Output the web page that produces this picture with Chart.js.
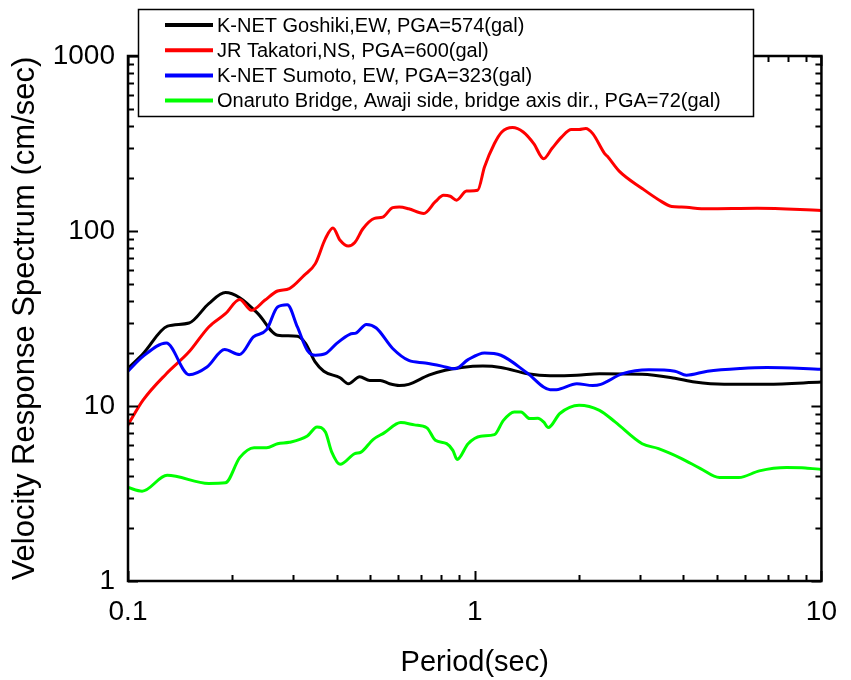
<!DOCTYPE html>
<html>
<head>
<meta charset="utf-8">
<script src="https://cdn.jsdelivr.net/npm/chart.js@4/dist/chart.umd.min.js"></script>
<style>
  html, body { margin: 0; padding: 0; background: #fff; }
  #wrap { width: 851px; height: 680px; }
</style>
</head>
<body>
<div id="wrap"><canvas id="spectrum" width="851" height="680"></canvas></div>
<script>
// series: period (sec) and velocity response (cm/sec)
const seriesLabels = [
    'K-NET Goshiki,EW, PGA=574(gal)',
    'JR Takatori,NS, PGA=600(gal)',
    'K-NET Sumoto, EW, PGA=323(gal)',
    'Onaruto Bridge, Awaji side, bridge axis dir., PGA=72(gal)'
];
const seriesColors = ['#000000', '#ff0000', '#0000ff', '#00ff00'];

const goshikiT = [0.1, 0.1105, 0.130, 0.150, 0.171, 0.191, 0.210, 0.237, 0.270, 0.308, 0.325, 0.347, 0.367, 0.409, 0.432, 0.466, 0.498, 0.534, 0.568, 0.606, 0.645, 0.737, 0.822, 0.917, 1.056, 1.19, 1.42, 1.65, 1.97, 2.29, 3.04, 3.78, 4.31, 5.24, 6.96, 10];
const goshikiV = [16.4, 19.9, 28.6, 29.8, 38.5, 44.5, 41.6, 33.7, 25.4, 25.0, 22.8, 17.8, 15.8, 14.5, 13.4, 14.7, 14.0, 14.0, 13.4, 13.1, 13.3, 15.0, 16.0, 16.6, 16.9, 16.6, 15.3, 14.9, 15.0, 15.3, 15.2, 14.4, 13.7, 13.3, 13.3, 13.7];

const takatoriT = [0.1, 0.1105, 0.129, 0.150, 0.171, 0.191, 0.210, 0.227, 0.248, 0.270, 0.292, 0.322, 0.347, 0.371, 0.390, 0.409, 0.432, 0.451, 0.476, 0.514, 0.543, 0.580, 0.606, 0.645, 0.713, 0.77, 0.813, 0.85, 0.886, 0.947, 1.02, 1.067, 1.14, 1.197, 1.285, 1.38, 1.48, 1.58, 1.67, 1.78, 1.90, 2.0, 2.09, 2.19, 2.37, 2.41, 2.61, 3.04, 3.39, 3.70, 3.95, 4.69, 6.52, 10];
const takatoriV = [7.8, 10.8, 15.3, 20.4, 28.3, 33.7, 40.6, 35.2, 40.2, 45.4, 46.9, 55.8, 65.1, 90.5, 104, 88.5, 82, 86, 103, 118, 120, 136, 137, 134, 126, 147, 160, 158, 150, 169, 171, 232, 316, 368, 390, 368, 316, 259, 296, 344, 380, 380, 385, 360, 277, 268, 220, 175, 151, 138, 137, 134, 135, 131];

const sumotoT = [0.1, 0.1105, 0.129, 0.150, 0.169, 0.190, 0.210, 0.230, 0.251, 0.270, 0.288, 0.308, 0.329, 0.347, 0.371, 0.400, 0.436, 0.456, 0.487, 0.520, 0.580, 0.645, 0.72, 0.804, 0.877, 0.957, 1.067, 1.19, 1.42, 1.65, 1.72, 1.97, 2.19, 2.31, 2.67, 3.18, 3.78, 4.08, 4.69, 5.85, 6.96, 10];
const sumotoV = [15.8, 19.2, 22.9, 15.1, 16.7, 21.0, 19.7, 24.8, 27.3, 36.8, 37.9, 28.3, 20.8, 19.5, 19.9, 22.8, 25.7, 26.2, 29.2, 27.9, 21.3, 18.2, 17.6, 16.9, 16.3, 18.4, 20.1, 19.5, 15.4, 12.4, 12.4, 13.4, 13.1, 13.3, 15.3, 16.1, 15.8, 15.0, 15.8, 16.4, 16.6, 16.2];

const onarutoT = [0.1, 0.1098, 0.1297, 0.171, 0.191, 0.210, 0.231, 0.251, 0.270, 0.292, 0.329, 0.351, 0.371, 0.387, 0.409, 0.451, 0.47, 0.509, 0.548, 0.612, 0.67, 0.728, 0.77, 0.83, 0.865, 0.89, 0.957, 1.04, 1.14, 1.21, 1.30, 1.36, 1.44, 1.52, 1.58, 1.63, 1.76, 2.0, 2.29, 2.54, 3.04, 3.39, 3.95, 4.48, 5.08, 5.78, 6.62, 7.93, 8.99, 10];
const onarutoV = [3.42, 3.26, 4.02, 3.61, 3.64, 5.07, 5.78, 5.78, 6.09, 6.2, 6.74, 7.59, 7.1, 5.45, 4.64, 5.35, 5.45, 6.43, 7.02, 8.04, 7.8, 7.5, 6.37, 6.1, 5.58, 4.95, 6.09, 6.72, 6.86, 8.28, 9.25, 9.25, 8.47, 8.5, 8.11, 7.53, 9.06, 10.1, 9.45, 8.11, 6.09, 5.71, 5.01, 4.39, 3.90, 3.90, 4.26, 4.45, 4.43, 4.34];

// tick labels
const xTickValues = [0.1, 1, 10];
const yTickValues = [1, 10, 100, 1000];

const FONT = '"Liberation Sans", Arial, Helvetica, sans-serif';
Chart.defaults.font.family = FONT;
Chart.defaults.color = '#000';

function toPoints(ts, vs) {
    return ts.map((t, i) => ({ x: t, y: vs[i] }));
}

const allT = [goshikiT, takatoriT, sumotoT, onarutoT];
const allV = [goshikiV, takatoriV, sumotoV, onarutoV];

const datasets = seriesLabels.map((label, i) => ({
    label: label,
    data: toPoints(allT[i], allV[i]),
    borderColor: seriesColors[i],
    backgroundColor: seriesColors[i],
    borderWidth: 3,
    pointRadius: 0,
    cubicInterpolationMode: 'monotone',
    fill: false,
    order: seriesLabels.length - i
}));

// list of decade + minor values between lo and hi
function logMarks(lo, hi) {
    const marks = [];
    for (let d = lo; d < hi * 0.999; d *= 10) {
        marks.push({ v: d, major: true });
        for (let k = 2; k <= 9; k++) marks.push({ v: d * k, major: false });
    }
    marks.push({ v: hi, major: true });
    return marks;
}

// frame with inward ticks on all four sides (Origin style)
const frameTicks = {
    id: 'frameTicks',
    afterDraw(chart) {
        const { ctx, chartArea: a, scales } = chart;
        const x = scales.x, y = scales.y;
        ctx.save();
        ctx.strokeStyle = '#000';
        ctx.lineWidth = 2;
        ctx.beginPath();
        logMarks(0.1, 10).forEach(m => {
            const px = Math.round(x.getPixelForValue(m.v)) + 0.5;
            const len = m.major ? 10 : 6;
            ctx.moveTo(px, a.bottom); ctx.lineTo(px, a.bottom - len);
            ctx.moveTo(px, a.top); ctx.lineTo(px, a.top + len);
        });
        logMarks(1, 1000).forEach(m => {
            const py = Math.round(y.getPixelForValue(m.v)) + 0.5;
            const len = m.major ? 10 : 6;
            ctx.moveTo(a.left, py); ctx.lineTo(a.left + len, py);
            ctx.moveTo(a.right, py); ctx.lineTo(a.right - len, py);
        });
        ctx.stroke();
        ctx.lineWidth = 2.5;
        ctx.strokeRect(a.left, a.top, a.right - a.left, a.bottom - a.top);
        ctx.restore();
    }
};

// boxed legend overlapping the top of the plot
const legendBox = {
    id: 'legendBox',
    afterDraw(chart) {
        const ctx = chart.ctx;
        const bx = 138, by = 9, bw = 615, bh = 107;
        ctx.save();
        ctx.fillStyle = '#fff';
        ctx.fillRect(bx, by, bw, bh);
        ctx.strokeStyle = '#000';
        ctx.lineWidth = 1.5;
        ctx.strokeRect(bx + 0.5, by + 0.5, bw, bh);
        ctx.font = '20px ' + FONT;
        ctx.textBaseline = 'middle';
        chart.data.datasets.forEach((ds, i) => {
            const yy = 25 + i * 25.2;
            ctx.strokeStyle = ds.borderColor;
            ctx.lineWidth = 4;
            ctx.beginPath();
            ctx.moveTo(165, yy);
            ctx.lineTo(213, yy);
            ctx.stroke();
            ctx.fillStyle = '#000';
            ctx.fillText(ds.label, 217, yy + 1);
        });
        ctx.restore();
    }
};

new Chart(document.getElementById('spectrum').getContext('2d'), {
    type: 'line',
    data: { datasets: datasets },
    plugins: [frameTicks, legendBox],
    options: {
        responsive: false,
        devicePixelRatio: 1,
        animation: false,
        layout: { padding: { left: 0, right: 19, top: 56, bottom: 0 } },
        plugins: {
            legend: { display: false },
            tooltip: { enabled: false }
        },
        scales: {
            x: {
                type: 'logarithmic',
                min: 0.1,
                max: 10,
                grid: { display: false, drawTicks: false },
                border: { display: false },
                afterBuildTicks: scale => { scale.ticks = xTickValues.map(v => ({ value: v })); },
                afterFit: scale => { scale.height = 99; },
                ticks: {
                    font: { size: 28 },
                    color: '#000',
                    padding: 14,
                    maxRotation: 0,
                    callback: v => String(v)
                },
                title: {
                    display: true,
                    text: 'Period(sec)',
                    font: { size: 29 },
                    color: '#000',
                    padding: { top: 0, bottom: 0 }
                }
            },
            y: {
                type: 'logarithmic',
                min: 1,
                max: 1000,
                grid: { display: false, drawTicks: false },
                border: { display: false },
                afterBuildTicks: scale => { scale.ticks = yTickValues.map(v => ({ value: v })); },
                afterFit: scale => { scale.width = 128; },
                ticks: {
                    font: { size: 28 },
                    color: '#000',
                    padding: 13,
                    callback: v => String(v)
                },
                title: {
                    display: true,
                    text: 'Velocity Response Spectrum (cm/sec)',
                    font: { size: 31 },
                    color: '#000',
                    padding: { top: 7, bottom: 0 }
                }
            }
        }
    }
});
</script>
</body>
</html>
